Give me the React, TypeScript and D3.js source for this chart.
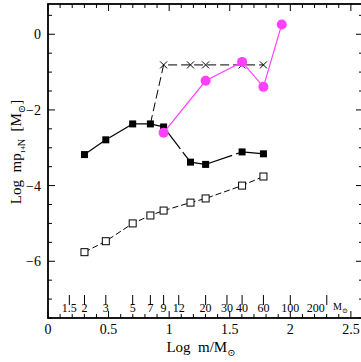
import React, { useEffect, useRef } from 'react';
import * as d3 from 'd3';

// stellar masses (M_sun) for each series and log of produced mass
const massFilled = [2, 3, 5, 7, 9, 15, 20, 40, 60];
const logFilled = [-3.18, -2.79, -2.37, -2.37, -2.45, -3.38, -3.44, -3.11, -3.16];

const massCross = [7, 9, 15, 20, 40, 60];
const logCross = [-2.37, -0.81, -0.81, -0.81, -0.81, -0.81];

const massMagenta = [9, 20, 40, 60, 85];
const logMagenta = [-2.6, -1.23, -0.73, -1.39, 0.26];

const massOpen = [2, 3, 5, 7, 9, 15, 20, 40, 60];
const logOpen = [-5.76, -5.47, -5.0, -4.79, -4.66, -4.45, -4.34, -4.0, -3.76];

const massTicks = [1.5, 2, 3, 5, 7, 9, 12, 20, 30, 40, 60, 100, 200];
const xLabels = [0, 0.5, 1, 1.5, 2, 2.5];
const yLabels = [0, -2, -4, -6];

const FONT = '"Liberation Serif", "DejaVu Serif", serif';

const App: React.FC = () => {
  const svgRef = useRef<SVGSVGElement>(null);

  useEffect(() => {
    if (!svgRef.current) return;
    const svg = d3.select(svgRef.current);
    svg.selectAll('*').remove();

    const left = 48, right = 363, top = 4, bottom = 318;
    const x = d3.scaleLinear().domain([0, 2.6]).range([left, right]);
    const y = d3.scaleLinear().domain([-7.5, 0.8]).range([bottom, top]);

    const g = svg.append('g');

    // frame
    g.append('rect')
      .attr('x', left).attr('y', top)
      .attr('width', right - left).attr('height', bottom - top)
      .attr('fill', 'none').attr('stroke', '#000').attr('stroke-width', 1.8);

    // x ticks (top and bottom)
    const xt = d3.range(0, 26).map(i => i / 10);
    xt.forEach(v => {
      const major = Math.abs(v * 2 - Math.round(v * 2)) < 1e-6;
      const len = major ? 7 : 4;
      g.append('line').attr('x1', x(v)).attr('x2', x(v)).attr('y1', bottom).attr('y2', bottom - len)
        .attr('stroke', '#000').attr('stroke-width', 1);
      g.append('line').attr('x1', x(v)).attr('x2', x(v)).attr('y1', top).attr('y2', top + len)
        .attr('stroke', '#000').attr('stroke-width', 1);
    });

    // y ticks (left and right)
    const yt = d3.range(-15, 2).map(i => i / 2);
    yt.forEach(v => {
      const major = Math.abs(v / 2 - Math.round(v / 2)) < 1e-6;
      const len = major ? 7 : 4;
      g.append('line').attr('x1', left).attr('x2', left + len).attr('y1', y(v)).attr('y2', y(v))
        .attr('stroke', '#000').attr('stroke-width', 1);
      g.append('line').attr('x1', right).attr('x2', right - len).attr('y1', y(v)).attr('y2', y(v))
        .attr('stroke', '#000').attr('stroke-width', 1);
    });

    // tick labels
    g.selectAll('text.xl').data(xLabels).join('text')
      .attr('x', d => x(d)).attr('y', 334)
      .attr('text-anchor', 'middle').attr('font-family', FONT).attr('font-size', 14)
      .text(d => String(d));

    g.selectAll('text.yl').data(yLabels).join('text')
      .attr('x', 41).attr('y', d => y(d) + 5)
      .attr('text-anchor', 'end').attr('font-family', FONT).attr('font-size', 14)
      .text(d => (d < 0 ? '\u2212' + Math.abs(d) : String(d)));

    // mass scale inside the plot
    massTicks.forEach(m => {
      const px = x(Math.log10(m));
      g.append('line').attr('x1', px).attr('x2', px).attr('y1', 295).attr('y2', 305)
        .attr('stroke', '#000').attr('stroke-width', 1);
      // the 200 label sits left of its tick to leave room for the unit
      g.append('text').attr('x', m === 200 ? px - 11 : px).attr('y', 312)
        .attr('text-anchor', 'middle').attr('font-family', FONT).attr('font-size', 12)
        .text(String(m));
    });
    const msun = g.append('text').attr('x', 333).attr('y', 310)
      .attr('font-family', FONT).attr('font-size', 10);
    msun.append('tspan').text('M');
    msun.append('tspan').attr('font-size', 7).attr('dy', 3).text('\u2299');

    // axis titles
    const xt2 = g.append('text').attr('x', 201).attr('y', 352)
      .attr('text-anchor', 'middle').attr('font-family', FONT).attr('font-size', 15)
      .attr('xml:space', 'preserve');
    xt2.append('tspan').text('Log  m/M');
    xt2.append('tspan').attr('font-size', 10).attr('dy', 4).text('\u2299');

    const yt2 = g.append('text')
      .attr('transform', 'translate(21,152) rotate(-90)')
      .attr('text-anchor', 'middle').attr('font-family', FONT).attr('font-size', 15)
      .attr('xml:space', 'preserve');
    yt2.append('tspan').text('Log  mp');
    yt2.append('tspan').attr('font-size', 7).attr('dy', 4).text('14');
    yt2.append('tspan').attr('font-size', 10).text('N');
    yt2.append('tspan').attr('dy', -4).text('  [M');
    yt2.append('tspan').attr('font-size', 10).attr('dy', 4).text('\u2299');
    yt2.append('tspan').attr('dy', -4).text(']');

    const line = d3.line<[number, number]>()
      .x(d => x(Math.log10(d[0])))
      .y(d => y(d[1]));

    const zip = (ms: number[], ls: number[]) => ms.map((m, i) => [m, ls[i]] as [number, number]);

    // open squares
    const open = zip(massOpen, logOpen);
    g.append('path').datum(open).attr('d', line)
      .attr('fill', 'none').attr('stroke', '#000').attr('stroke-width', 1).attr('stroke-dasharray', '6,3');
    g.selectAll('rect.open').data(open).join('rect')
      .attr('x', d => x(Math.log10(d[0])) - 3.5).attr('y', d => y(d[1]) - 3.5)
      .attr('width', 7).attr('height', 7)
      .attr('fill', '#fff').attr('stroke', '#000').attr('stroke-width', 1);

    // crosses
    const cross = zip(massCross, logCross);
    g.append('path').datum(cross).attr('d', line)
      .attr('fill', 'none').attr('stroke', '#000').attr('stroke-width', 1).attr('stroke-dasharray', '9,4');
    cross.slice(1).forEach(d => {
      const cx = x(Math.log10(d[0])), cy = y(d[1]);
      g.append('path').attr('d', `M${cx - 3.5},${cy - 3.5}L${cx + 3.5},${cy + 3.5}M${cx - 3.5},${cy + 3.5}L${cx + 3.5},${cy - 3.5}`)
        .attr('stroke', '#000').attr('stroke-width', 1);
    });

    // filled squares
    const filled = zip(massFilled, logFilled);
    g.append('path').datum(filled).attr('d', line)
      .attr('fill', 'none').attr('stroke', '#000').attr('stroke-width', 1.2).attr('stroke-dasharray', '26,4');
    g.selectAll('rect.filled').data(filled).join('rect')
      .attr('x', d => x(Math.log10(d[0])) - 3.5).attr('y', d => y(d[1]) - 3.5)
      .attr('width', 7).attr('height', 7)
      .attr('fill', '#000');

    // magenta circles
    const mag = zip(massMagenta, logMagenta);
    g.append('path').datum(mag).attr('d', line)
      .attr('fill', 'none').attr('stroke', '#ff40ff').attr('stroke-width', 1.2);
    g.selectAll('circle.mag').data(mag).join('circle')
      .attr('cx', d => x(Math.log10(d[0]))).attr('cy', d => y(d[1]))
      .attr('r', 5).attr('fill', '#ff40ff');
  }, []);

  return (
    <svg ref={svgRef} width={361} height={362}
      style={{ position: 'absolute', left: 0, top: 0, background: '#fff' }} />
  );
};

export default App;
